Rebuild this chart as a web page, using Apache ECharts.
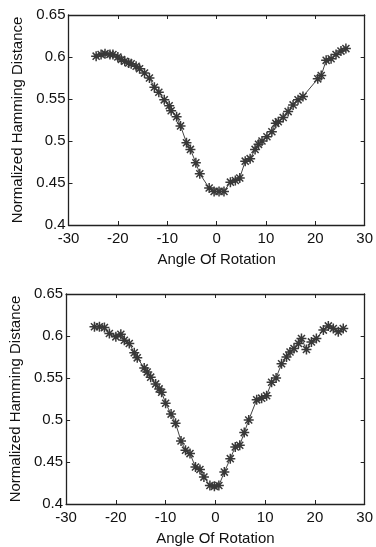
<!DOCTYPE html>
<html>
<head>
<meta charset="utf-8">
<script src="https://cdn.jsdelivr.net/npm/echarts@6/dist/echarts.min.js"></script>
<style>
html,body{margin:0;padding:0;background:#fff;}
#c{width:376px;height:547px;}
</style>
</head>
<body>
<div id="c"></div>
<script>
// Top panel
var angles1 = [-24.4,-23.4,-22.6,-21.6,-21.0,-20.0,-19.3,-18.6,-17.8,-17.3,-16.3,-15.6,-14.6,-13.6,-12.6,-11.7,-10.6,-9.6,-9.2,-8.1,-7.3,-6.1,-5.3,-4.2,-3.4,-1.5,-0.5,0.5,1.5,2.8,3.8,4.7,5.8,6.8,7.8,8.5,9.2,10.2,11.2,12.0,12.5,13.5,14.5,15.5,16.5,17.5,20.5,21.2,22.2,23.2,24.2,25.2,26.2];
var dist1   = [0.601,0.603,0.604,0.603,0.603,0.600,0.597,0.595,0.593,0.592,0.589,0.586,0.581,0.575,0.564,0.558,0.549,0.542,0.536,0.529,0.518,0.498,0.490,0.474,0.461,0.444,0.440,0.440,0.440,0.451,0.453,0.456,0.476,0.479,0.490,0.496,0.500,0.505,0.511,0.521,0.523,0.528,0.535,0.543,0.549,0.553,0.574,0.578,0.596,0.598,0.603,0.607,0.610];
// Bottom panel
var angles2 = [-24.3,-23.3,-22.3,-21.3,-20.0,-19.0,-18.3,-17.3,-16.3,-15.7,-14.3,-13.7,-13.0,-12.0,-11.3,-10.8,-10.0,-8.9,-8.0,-6.9,-6.0,-5.1,-4.0,-3.1,-2.3,-1.1,-0.2,0.7,1.8,3.0,4.0,4.9,5.8,6.7,8.3,9.3,10.3,11.3,12.2,13.3,14.3,15.0,15.8,16.7,17.3,18.3,19.3,20.3,21.7,22.7,23.7,24.7,25.7];
var dist2   = [0.611,0.611,0.610,0.603,0.599,0.602,0.595,0.591,0.580,0.574,0.562,0.557,0.551,0.543,0.537,0.533,0.520,0.507,0.496,0.475,0.464,0.460,0.444,0.441,0.432,0.422,0.421,0.422,0.438,0.454,0.468,0.470,0.485,0.500,0.524,0.526,0.529,0.545,0.550,0.567,0.575,0.581,0.585,0.591,0.597,0.584,0.593,0.597,0.607,0.612,0.609,0.605,0.609];
var xTicks = [-30,-20,-10,0,10,20,30];
var yTicks = [0.4,0.45,0.5,0.55,0.6,0.65];
var xTitle = 'Angle Of Rotation';
var yTitle = 'Normalized Hamming Distance';

function zip(a,b){var r=[];for(var i=0;i<a.length;i++)r.push([a[i],b[i]]);return r;}

var STAR = 'path://M8.5 0L11.5 0L11.5 20L8.5 20Z M0 8.5L20 8.5L20 11.5L0 11.5Z M1.9 4.0L4.0 1.9L18.1 16.0L16.0 18.1Z M16.0 1.9L18.1 4.0L4.0 18.1L1.9 16.0Z';
var FONT = 'Liberation Sans';
var AX = '#222';

function xAx(grid, pos, labels){
  return {
    type:'value', gridIndex:grid, position:pos, min:-30, max:30, interval:10,
    axisLine:{show:true, onZero:false, lineStyle:{color:AX, width:1.3}},
    axisTick:{show:true, inside:true, length:4, lineStyle:{color:AX}},
    axisLabel:{show:labels, margin:6, color:'#111', fontSize:15, fontFamily:FONT,
      formatter:function(v){return xTicks.indexOf(v)>=0 ? String(v) : '';}},
    splitLine:{show:false},
    name: labels ? xTitle : '', nameLocation:'middle', nameGap:27,
    nameTextStyle:{color:'#111', fontSize:15, fontFamily:FONT}
  };
}
function yAx(grid, pos, labels){
  return {
    type:'value', gridIndex:grid, position:pos, min:0.4, max:0.65, interval:0.05,
    axisLine:{show:true, onZero:false, lineStyle:{color:AX, width:1.3}},
    axisTick:{show:true, inside:true, length:4, lineStyle:{color:AX}},
    axisLabel:{show:labels, margin:3, color:'#111', fontSize:15, fontFamily:FONT,
      formatter:function(v){var r=Math.round(v*100)/100; return String(r);}},
    splitLine:{show:false},
    name: labels ? yTitle : '', nameLocation:'middle', nameGap:42,
    nameTextStyle:{color:'#111', fontSize:15, fontFamily:FONT}
  };
}
function ser(xi, yi, data){
  return {
    type:'line', xAxisIndex:xi, yAxisIndex:yi, data:data,
    symbol:STAR, symbolSize:10, showSymbol:true,
    itemStyle:{color:'#383838'},
    lineStyle:{color:'#444', width:1},
    animation:false
  };
}

var chart = echarts.init(document.getElementById('c'), null, {renderer:'canvas'});
chart.setOption({
  backgroundColor:'#fff',
  animation:false,
  grid:[
    {left:68.5, top:15, width:300.5, height:210},
    {left:66, top:294, width:300, height:210}
  ],
  xAxis:[xAx(0,'bottom',true), xAx(0,'top',false), xAx(1,'bottom',true), xAx(1,'top',false)],
  yAxis:[yAx(0,'left',true), yAx(0,'right',false), yAx(1,'left',true), yAx(1,'right',false)],
  series:[ser(0,0,zip(angles1,dist1)), ser(2,2,zip(angles2,dist2))]
});
</script>
</body>
</html>
